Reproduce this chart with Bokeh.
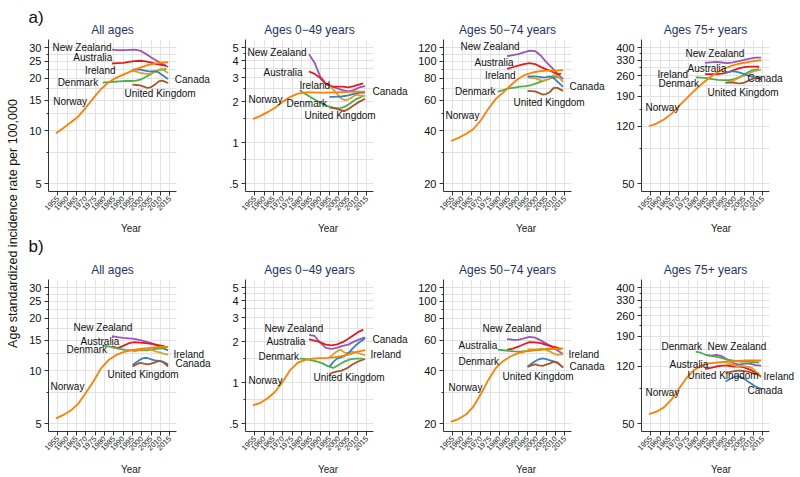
import math
from bokeh.plotting import figure
from bokeh.models import Range1d, FixedTicker, Label, BoxAnnotation
from bokeh.layouts import row, column
from bokeh.embed import file_html
from bokeh.resources import INLINE

FONT = "Liberation Sans"

# ---------------- data ----------------
YEARS_NOR = [1954, 1958, 1962, 1966, 1970, 1974, 1978, 1982, 1986, 1990, 1994, 1998, 2002, 2006, 2010, 2014]
YEARS_NZL = [1984, 1987, 1990, 1993, 1996, 1999, 2002, 2005, 2008, 2011, 2014]
YEARS_AUS = [1984, 1987, 1990, 1993, 1996, 1999, 2002, 2005, 2008, 2011, 2013]
YEARS_DNK = [1979, 1982, 1985, 1988, 1991, 1994, 1997, 2000, 2003, 2006, 2009, 2013]
YEARS_LATE = [1995, 1997, 1999, 2001, 2003, 2005, 2007, 2009, 2011, 2014]   # Ireland, Canada, UK

# a) All ages
A_ALL_NOR = [9.7, 10.4, 11.2, 12.1, 13.6, 15.4, 17.3, 18.9, 20.1, 21.0, 21.9, 22.8, 23.6, 24.2, 24.6, 24.7]
A_ALL_NZL = [29.2, 29.0, 29.0, 29.1, 29.2, 28.8, 27.6, 26.3, 25.2, 24.1, 23.2]
A_ALL_AUS = [24.3, 24.4, 24.5, 24.8, 25.1, 25.2, 25.0, 24.6, 24.1, 23.8, 23.6]
A_ALL_DNK = [18.9, 19.0, 19.1, 19.2, 19.3, 19.3, 19.4, 19.8, 20.6, 21.5, 22.3, 22.6]
A_ALL_IRL = [22.0, 21.8, 21.5, 21.3, 21.2, 21.4, 21.8, 22.4, 22.6, 21.4]
A_ALL_CAN = [22.4, 22.5, 22.4, 22.2, 22.0, 21.9, 22.0, 21.6, 20.8, 19.8]
A_ALL_GBR = [18.4, 18.3, 18.2, 17.9, 17.6, 17.8, 18.4, 19.2, 19.4, 18.8]

# a) Ages 0-49
A_049_NOR = [1.49, 1.57, 1.68, 1.81, 2.00, 2.17, 2.29, 2.34, 2.34, 2.33, 2.33, 2.34, 2.35, 2.36, 2.37, 2.37]
A_049_NZL = [4.47, 3.85, 3.05, 2.72, 2.60, 2.50, 2.43, 2.38, 2.43, 2.55, 2.60]
A_049_AUS = [3.33, 3.20, 2.98, 2.70, 2.58, 2.58, 2.58, 2.55, 2.60, 2.68, 2.72]
A_049_DNK = [2.42, 2.28, 2.15, 2.04, 1.94, 1.85, 1.81, 1.78, 1.83, 1.94, 2.08, 2.20]
A_049_IRL = [2.60, 2.45, 2.28, 2.12, 2.05, 2.08, 2.15, 2.25, 2.22, 2.20]
A_049_CAN = [2.17, 2.17, 2.18, 2.18, 2.20, 2.22, 2.26, 2.30, 2.32, 2.33]
A_049_GBR = [1.81, 1.79, 1.77, 1.73, 1.71, 1.76, 1.84, 1.92, 2.00, 2.10]

# a) Ages 50-74
A_5074_NOR = [35.0, 36.5, 38.4, 41.0, 46.0, 53.5, 61.0, 66.5, 73.0, 79.5, 84.0, 86.6, 88.0, 88.4, 88.6, 89.0]
A_5074_NZL = [107.0, 108.5, 110.0, 112.5, 115.0, 114.5, 108.0, 99.0, 92.0, 85.0, 79.0]
A_5074_AUS = [90.5, 92.5, 94.5, 96.5, 97.6, 96.5, 93.0, 90.0, 87.5, 84.5, 85.0]
A_5074_DNK = [67.2, 68.5, 70.0, 70.8, 71.6, 72.2, 73.2, 75.0, 77.0, 79.0, 81.5, 81.0]
A_5074_IRL = [81.0, 80.5, 80.0, 78.5, 77.3, 78.2, 80.0, 83.5, 82.5, 76.2]
A_5074_CAN = [82.0, 82.0, 82.0, 81.5, 81.0, 81.3, 82.0, 80.0, 76.5, 71.4]
A_5074_GBR = [67.8, 67.6, 67.3, 66.0, 64.6, 65.0, 66.8, 70.5, 70.5, 67.8]

# a) Ages 75+
A_75_NOR = [120, 125, 133, 145, 163, 183, 205, 228, 250, 271, 288, 302, 312, 319, 325, 330]
A_75_NZL = [316, 319, 321, 318, 315, 319, 325, 331, 338, 343, 343]
A_75_AUS = [266, 266, 266, 268, 273, 282, 291, 296, 299, 299, 298]
A_75_DNK = [253, 252, 250, 247, 244, 243, 243, 248, 256, 270, 282, 287]
A_75_IRL = [233, 236, 240, 247, 254, 260, 267, 275, 280, 285]
A_75_CAN = [272, 276, 279, 276, 271, 266, 260, 256, 253, 246]
A_75_GBR = [234, 234, 234, 232, 231, 234, 240, 247, 251, 253]

# b) All ages
B_ALL_NOR = [5.35, 5.6, 5.95, 6.5, 7.5, 8.7, 10.3, 11.5, 12.3, 12.8, 13.1, 13.3, 13.45, 13.6, 13.7, 13.7]
B_ALL_NZL = [15.8, 15.6, 15.45, 15.35, 15.25, 15.0, 14.7, 14.4, 14.0, 13.5, 13.1]
B_ALL_AUS = [13.8, 13.5, 13.9, 14.4, 14.6, 14.5, 14.4, 14.3, 14.1, 13.9, 13.7]
B_ALL_DNK = [14.0, 13.8, 13.6, 13.35, 13.2, 13.1, 13.1, 13.1, 13.1, 13.3, 13.4, 13.5]
B_ALL_IRL = [12.9, 13.0, 13.2, 13.3, 13.4, 13.2, 12.95, 12.8, 12.6, 12.4]
B_ALL_CAN = [10.8, 11.2, 11.6, 11.85, 11.85, 11.65, 11.5, 11.4, 11.3, 10.9]
B_ALL_GBR = [10.6, 10.9, 11.1, 11.0, 10.9, 11.0, 11.2, 11.4, 11.3, 10.6]

# b) Ages 0-49
B_049_NOR = [0.68, 0.71, 0.77, 0.86, 1.02, 1.24, 1.40, 1.47, 1.50, 1.51, 1.52, 1.54, 1.57, 1.62, 1.69, 1.73]
B_049_NZL = [2.24, 2.20, 1.96, 1.80, 1.77, 1.80, 1.86, 1.90, 2.00, 2.08, 2.15]
B_049_AUS = [2.08, 2.03, 1.98, 1.90, 1.88, 1.91, 1.98, 2.10, 2.24, 2.38, 2.45]
B_049_DNK = [1.50, 1.49, 1.46, 1.43, 1.39, 1.32, 1.28, 1.35, 1.43, 1.48, 1.50, 1.50]
B_049_IRL = [1.53, 1.62, 1.70, 1.74, 1.66, 1.65, 1.69, 1.67, 1.63, 1.59]
B_049_CAN = [1.31, 1.42, 1.50, 1.53, 1.57, 1.64, 1.76, 1.88, 1.98, 2.12]
B_049_GBR = [1.15, 1.19, 1.21, 1.22, 1.25, 1.29, 1.35, 1.40, 1.44, 1.49]

# b) Ages 50-74
B_5074_NOR = [20.5, 21.2, 22.5, 25.0, 29.5, 35.5, 41.5, 45.6, 48.5, 50.5, 51.7, 52.6, 53.0, 53.2, 53.6, 53.8]
B_5074_NZL = [60.8, 60.3, 60.2, 61.3, 62.7, 62.0, 59.8, 57.3, 55.2, 52.3, 50.0]
B_5074_AUS = [52.8, 53.6, 55.0, 56.8, 58.4, 58.3, 57.6, 56.3, 55.2, 54.3, 53.2]
B_5074_DNK = [53.0, 52.5, 52.0, 51.7, 51.5, 51.9, 52.3, 52.6, 53.1, 53.7, 53.6, 53.1]
B_5074_IRL = [53.1, 53.1, 53.1, 53.3, 53.7, 52.8, 51.6, 50.2, 49.4, 49.8]
B_5074_CAN = [42.2, 43.9, 45.4, 46.6, 47.2, 46.7, 46.0, 45.3, 44.3, 41.9]
B_5074_GBR = [42.2, 43.0, 43.6, 43.0, 42.7, 43.4, 44.2, 45.1, 44.8, 41.7]

# b) Ages 75+
B_75_NOR = [57.8, 59.9, 64.0, 72.0, 85.0, 100, 113, 121, 125.5, 127, 128, 129, 130, 131, 131, 131]
B_75_NZL = [143, 141, 143, 140, 133, 126, 123, 125, 125, 122, 121]
B_75_AUS = [115.5, 117, 119.5, 121, 121, 119.5, 120, 118, 114, 109.5, 107]
B_75_DNK = [150, 147, 142, 140, 138, 135, 132, 130, 129, 129, 128, 127]
B_75_IRL = [123, 124.5, 123, 120, 121, 120, 119, 117, 112, 101]
B_75_CAN = [95, 98, 101, 103, 102, 99, 95, 91.5, 88, 85]
B_75_GBR = [108, 109.5, 111, 112, 112, 111.5, 110.5, 108.5, 107, 103]

X_TICKS = list(range(1955, 2016, 5))

# y axis ticks per age group (same for panels a and b)
Y_TICKS_ALL = [5, 10, 15, 20, 25, 30]
Y_LABELS_ALL = ["5", "10", "15", "20", "25", "30"]
Y_MINOR_ALL = [7.5, 12.5, 17.5, 22.5, 27.5]
Y_TICKS_049 = [0.5, 1, 2, 3, 4, 5]
Y_LABELS_049 = [".5", "1", "2", "3", "4", "5"]
Y_MINOR_049 = [0.75, 1.5, 2.5, 3.5, 4.5]
Y_TICKS_5074 = [20, 40, 60, 80, 100, 120]
Y_LABELS_5074 = ["20", "40", "60", "80", "100", "120"]
Y_MINOR_5074 = [30, 50, 70, 90, 110]
Y_TICKS_75 = [50, 120, 190, 260, 330, 400]
Y_LABELS_75 = ["50", "120", "190", "260", "330", "400"]
Y_MINOR_75 = [85, 155, 225, 295, 365]

TITLES = ["All ages", "Ages 0\u221249 years", "Ages 50\u221274 years", "Ages 75+ years"]
PANEL_TAGS = ["a)", "b)"]
Y_TITLE = "Age standardized incidence rate per 100,000"

# ---------------- styling / placement ----------------
COLORS = {
    "New Zealand": "#9b55b5",
    "Australia": "#e41a1c",
    "Ireland": "#d6a42a",
    "Denmark": "#4daf4a",
    "Canada": "#3a80c0",
    "United Kingdom": "#a65628",
    "Norway": "#ff7f00",
}
DRAW_ORDER = ["New Zealand", "Australia", "Denmark", "Ireland", "Canada", "United Kingdom", "Norway"]
YEARS = {"Norway": YEARS_NOR, "New Zealand": YEARS_NZL, "Australia": YEARS_AUS, "Denmark": YEARS_DNK,
         "Ireland": YEARS_LATE, "Canada": YEARS_LATE, "United Kingdom": YEARS_LATE}

FW, FH = 128, 152
X0, X1 = 1950, 2018.5
STRIP_W = 24
COL_LEFT = [24, 32, 33, 33]       # left border (axis) of each column figure
COL_EXTRA = [37, 37, 37, 31]      # label room right of the plotted area
HEADER_H = [39, 43]
ROW_BOTTOM = [43, 48]
YEAR_STANDOFF = [7, 8]
TITLE_CX = [112, 309, 507, 705]   # title centres (page px)
TITLE_Y = [29, 33]                # title centre, px from top of header
TAG_POS = [(4, 17), (4, 10)]      # "a)" / "b)" position in header

# label placement: (text, px from frame left, px from frame top, align)
LBL = {
    (0, 0): [("New Zealand", 63, 7.7, "right"), ("Australia", 63.7, 17.7, "right"), ("Ireland", 67, 31, "right"),
             ("Denmark", 49.7, 42.7, "right"), ("Norway", 4.7, 61.7, "left"), ("Canada", 126.3, 40, "left"),
             ("United Kingdom", 76, 54.3, "left")],
    (0, 1): [("New Zealand", 61, 13, "right"), ("Australia", 57, 33, "right"), ("Ireland", 54, 46, "left"),
             ("Norway", 3, 60, "left"), ("Denmark", 41, 64, "left"), ("United Kingdom", 59, 76, "left"),
             ("Canada", 127, 52, "left")],
    (0, 2): [("New Zealand", 76, 7, "right"), ("Australia", 70, 23, "right"), ("Ireland", 72, 36, "right"),
             ("Denmark", 52, 52, "right"), ("Norway", 2, 76, "left"), ("United Kingdom", 70, 63, "left"),
             ("Canada", 126, 47, "left")],
    (0, 3): [("New Zealand", 44, 14, "left"), ("Australia", 46, 29, "left"), ("Ireland", 16, 35, "left"),
             ("Denmark", 17, 44, "left"), ("Norway", 4, 68, "left"), ("Canada", 106, 39, "left"),
             ("United Kingdom", 66, 53, "left")],
    (1, 0): [("New Zealand", 25, 48, "left"), ("Australia", 32, 62, "left"), ("Denmark", 18, 70, "left"),
             ("Norway", 2, 107, "left"), ("Ireland", 125, 75, "left"), ("Canada", 127, 84, "left"),
             ("United Kingdom", 59, 95, "left")],
    (1, 1): [("New Zealand", 19, 49, "left"), ("Australia", 21, 62, "left"), ("Denmark", 13, 77, "left"),
             ("Norway", 3, 101, "left"), ("Canada", 127, 60, "left"), ("Ireland", 125, 75, "left"),
             ("United Kingdom", 68, 98, "left")],
    (1, 2): [("New Zealand", 39, 49, "left"), ("Australia", 15, 66, "left"), ("Denmark", 15, 82, "left"),
             ("Norway", 5, 108, "left"), ("Ireland", 125, 75, "left"), ("Canada", 126, 87, "left"),
             ("United Kingdom", 59, 97, "left")],
    (1, 3): [("Denmark", 20, 67, "left"), ("New Zealand", 66, 67, "left"), ("Australia", 28, 85, "left"),
             ("United Kingdom", 46, 96, "left"), ("Ireland", 122, 97, "left"), ("Canada", 106, 111, "left"),
             ("Norway", 4, 113, "left")],
}

AXES = [
    (Y_TICKS_ALL, Y_LABELS_ALL, Y_MINOR_ALL),
    (Y_TICKS_049, Y_LABELS_049, Y_MINOR_049),
    (Y_TICKS_5074, Y_LABELS_5074, Y_MINOR_5074),
    (Y_TICKS_75, Y_LABELS_75, Y_MINOR_75),
]

SERIES = {
    (0, 0): {"Norway": A_ALL_NOR, "New Zealand": A_ALL_NZL, "Australia": A_ALL_AUS, "Denmark": A_ALL_DNK,
             "Ireland": A_ALL_IRL, "Canada": A_ALL_CAN, "United Kingdom": A_ALL_GBR},
    (0, 1): {"Norway": A_049_NOR, "New Zealand": A_049_NZL, "Australia": A_049_AUS, "Denmark": A_049_DNK,
             "Ireland": A_049_IRL, "Canada": A_049_CAN, "United Kingdom": A_049_GBR},
    (0, 2): {"Norway": A_5074_NOR, "New Zealand": A_5074_NZL, "Australia": A_5074_AUS, "Denmark": A_5074_DNK,
             "Ireland": A_5074_IRL, "Canada": A_5074_CAN, "United Kingdom": A_5074_GBR},
    (0, 3): {"Norway": A_75_NOR, "New Zealand": A_75_NZL, "Australia": A_75_AUS, "Denmark": A_75_DNK,
             "Ireland": A_75_IRL, "Canada": A_75_CAN, "United Kingdom": A_75_GBR},
    (1, 0): {"Norway": B_ALL_NOR, "New Zealand": B_ALL_NZL, "Australia": B_ALL_AUS, "Denmark": B_ALL_DNK,
             "Ireland": B_ALL_IRL, "Canada": B_ALL_CAN, "United Kingdom": B_ALL_GBR},
    (1, 1): {"Norway": B_049_NOR, "New Zealand": B_049_NZL, "Australia": B_049_AUS, "Denmark": B_049_DNK,
             "Ireland": B_049_IRL, "Canada": B_049_CAN, "United Kingdom": B_049_GBR},
    (1, 2): {"Norway": B_5074_NOR, "New Zealand": B_5074_NZL, "Australia": B_5074_AUS, "Denmark": B_5074_DNK,
             "Ireland": B_5074_IRL, "Canada": B_5074_CAN, "United Kingdom": B_5074_GBR},
    (1, 3): {"Norway": B_75_NOR, "New Zealand": B_75_NZL, "Australia": B_75_AUS, "Denmark": B_75_DNK,
             "Ireland": B_75_IRL, "Canada": B_75_CAN, "United Kingdom": B_75_GBR},
}

AXIS_COLOR = "#333333"
GRID_COLOR = "#e2e2e2"
TITLE_COLOR = "#1f3364"
TEXT_COLOR = "#111111"


def blank_fig(w, h):
    f = figure(width=w, height=h, x_range=Range1d(0, w), y_range=Range1d(0, h),
               output_backend="svg", toolbar_location=None, min_border=0,
               x_axis_location=None, y_axis_location=None, outline_line_color=None)
    f.grid.visible = False
    f.xgrid.grid_line_color = None
    f.ygrid.grid_line_color = None
    return f


def make_panel(r, c):
    ticks, labels, minor = AXES[c]
    lo, hi = ticks[0], ticks[-1]
    pad = (8.0 / 136.0) * math.log(hi / lo)
    y0, y1 = lo * math.exp(-pad), hi * math.exp(pad)
    fw_ext = FW + COL_EXTRA[c]
    x1e = X0 + fw_ext / FW * (X1 - X0)
    p = figure(frame_width=fw_ext, frame_height=FH, x_range=Range1d(X0, x1e), y_range=Range1d(y0, y1),
               y_axis_type="log", output_backend="svg", toolbar_location=None, title=None,
               min_border_left=COL_LEFT[c], min_border_right=0, min_border_top=0,
               min_border_bottom=ROW_BOTTOM[r],
               background_fill_color="white", border_fill_color="white")
    p.outline_line_color = None

    # axes
    p.xaxis.ticker = FixedTicker(ticks=X_TICKS)
    p.xaxis.bounds = (X0, X1)
    p.xaxis.major_label_orientation = math.pi / 4
    p.xaxis.major_label_text_font = FONT
    p.xaxis.major_label_text_font_size = "7.5px"
    p.xaxis.major_label_text_color = "#222222"
    p.xaxis.major_label_standoff = 2
    p.xaxis.axis_label = "Year"
    p.xaxis.axis_label_text_font = FONT
    p.xaxis.axis_label_text_font_size = "10px"
    p.xaxis.axis_label_text_font_style = "normal"
    p.xaxis.axis_label_text_color = "#222222"
    p.xaxis.axis_label_standoff = YEAR_STANDOFF[r]

    p.yaxis.ticker = FixedTicker(ticks=ticks, minor_ticks=minor)
    p.yaxis.major_label_overrides = {float(t): l for t, l in zip(ticks, labels)}
    p.yaxis.major_label_text_font = FONT
    p.yaxis.major_label_text_font_size = "11px"
    p.yaxis.major_label_text_color = TEXT_COLOR
    p.yaxis.major_label_standoff = 3

    for ax in (p.xaxis[0], p.yaxis[0]):
        ax.axis_line_color = AXIS_COLOR
        ax.major_tick_line_color = AXIS_COLOR
        ax.minor_tick_line_color = AXIS_COLOR
        ax.major_tick_out = 4
        ax.major_tick_in = 0
        ax.minor_tick_out = 2
        ax.minor_tick_in = 0

    p.xgrid.grid_line_color = GRID_COLOR
    p.ygrid.grid_line_color = GRID_COLOR
    p.ygrid.minor_grid_line_color = GRID_COLOR

    data = SERIES[(r, c)]
    for name in DRAW_ORDER:
        p.line(YEARS[name], data[name], line_color=COLORS[name], line_width=1.8)

    # blank out the gridlines in the label room right of the plot area
    p.add_layout(BoxAnnotation(left=X1, fill_color="white", fill_alpha=1.0, line_color=None))

    def to_data(px, py):
        x = X0 + px / FW * (X1 - X0)
        y = math.exp(math.log(y1) - py / FH * math.log(y1 / y0))
        return x, y

    for text, px, py, align in LBL[(r, c)]:
        x, y = to_data(px, py)
        p.add_layout(Label(x=x, y=y, text=text, text_align=align, text_baseline="middle",
                           text_font=FONT, text_font_size="10px", text_color=TEXT_COLOR))
    return p


def make_header(r):
    w = 800 - STRIP_W
    h = HEADER_H[r]
    f = blank_fig(w, h)
    tx, ty = TAG_POS[r]
    f.add_layout(Label(x=tx, y=h - ty, text=PANEL_TAGS[r], text_align="left", text_baseline="middle",
                       text_font=FONT, text_font_size="17px", text_color=TEXT_COLOR))
    for c in range(4):
        f.add_layout(Label(x=TITLE_CX[c] - STRIP_W, y=h - TITLE_Y[r], text=TITLES[c], text_align="center",
                           text_baseline="middle", text_font=FONT, text_font_size="12px",
                           text_color=TITLE_COLOR))
    return f


blocks = []
for r in range(2):
    blocks.append(make_header(r))
    blocks.append(row(*[make_panel(r, c) for c in range(4)]))

strip = blank_fig(STRIP_W, 477)
strip.add_layout(Label(x=12, y=477 - 223, text=Y_TITLE, angle=math.pi / 2,
                       text_align="center", text_baseline="middle", text_font=FONT,
                       text_font_size="12.5px", text_color=TEXT_COLOR))

layout = row(strip, column(*blocks))
open("out.html", "w").write(file_html(layout, INLINE))
